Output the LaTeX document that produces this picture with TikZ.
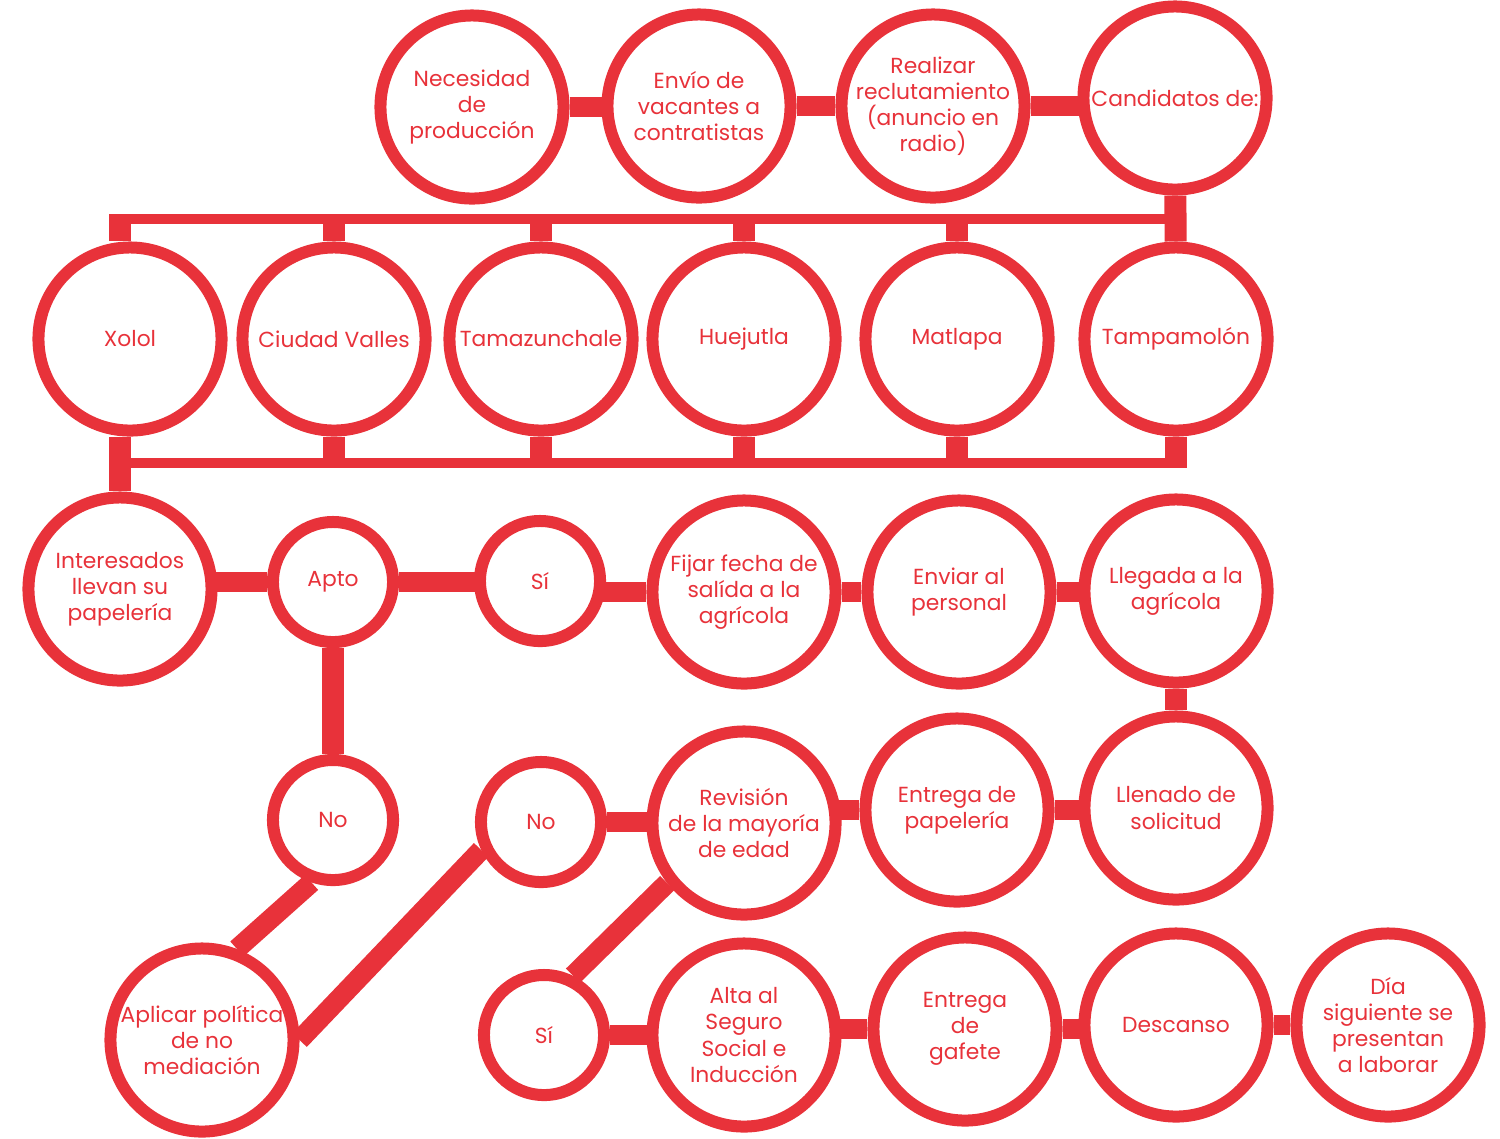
\documentclass[tikz,border=0pt]{standalone}
\usepackage{fontspec}
\setmainfont{Poppins}
\usetikzlibrary{backgrounds}
\definecolor{rojo}{HTML}{E8323A}
\begin{document}
\begin{tikzpicture}[x=0.01cm,y=-0.01cm,
  paso/.style={circle,draw=rojo,fill=white,line width=0.12cm,minimum size=1.83cm,
    inner sep=0pt,text=rojo,align=center,font=\fontsize{6.2}{7.4}\selectfont},
  chico/.style={paso,minimum size=1.2cm},
  barra/.style={draw=rojo,line width=0.2cm},
  bus/.style={draw=rojo,line width=0.1cm},
  tope/.style={draw=rojo,line width=0.22cm}]
\useasboundingbox (0,0) rectangle (1500,1138);
% fila 1
\node[paso] (nec) at (472,107) {Necesidad\\de\\producción};
\node[paso] (env) at (699,106) {Envío de\\vacantes a\\contratistas};
\node[paso] (rea) at (933,106) {Realizar\\reclutamiento\\(anuncio en\\radio)};
\node[paso] (cand) at (1175,98) {Candidatos de:};
% fila 2
\node[paso] (xol) at (130,339) {Xolol};
\node[paso] (ciu) at (334,339) {Ciudad Valles};
\node[paso] (tam) at (541,339) {Tamazunchale};
\node[paso] (hue) at (744,339) {Huejutla};
\node[paso] (mat) at (957,339) {Matlapa};
\node[paso] (tamp) at (1176,339) {Tampamolón};
\coordinate (busT) at (0,219);
\coordinate (busTe) at (0,214);
\coordinate (busB) at (0,463);
\coordinate (busBe) at (0,468);
% fila 3
\node[paso] (int) at (120,589) {Interesados\\llevan su\\papelería};
\node[chico] (apto) at (333,582) {Apto};
\node[chico] (sia) at (540,581) {Sí};
\node[paso] (fij) at (744,592) {Fijar fecha de\\salída a la\\agrícola};
\node[paso] (envp) at (959,592) {Enviar al\\personal};
\node[paso] (lleg) at (1176,591) {Llegada a la\\agrícola};
% fila 4
\node[chico] (nol) at (333,820) {No};
\node[chico] (nom) at (541,822) {No};
\node[paso] (rev) at (744,823) {Revisión\\de la mayoría\\de edad};
\node[paso] (entp) at (957,810) {Entrega de\\papelería};
\node[paso] (llen) at (1176,808) {Llenado de\\solicitud};
% fila 5
\node[paso] (apl) at (202,1040) {Aplicar política\\de no\\mediación};
\node[chico] (sib) at (544,1035) {Sí};
\node[paso] (alta) at (744,1035) {Alta al\\Seguro\\Social e\\Inducción};
\node[paso] (gaf) at (965,1029) {Entrega\\de\\gafete};
\node[paso] (des) at (1176,1025) {Descanso};
\node[paso] (dia) at (1388,1025) {Día\\siguiente se\\presentan\\a laborar};
\begin{scope}[on background layer]
\draw[barra] (nec) -- (nec -| env) (env) -- (rea) (rea) -- (rea -| cand);
\draw[tope] (cand) -- (tamp);
\draw[bus] (int.north |- busT) -- (tamp.north |- busT);
\draw[bus] (int.north |- busB) -- (tamp.south |- busB);
\draw[tope] (int.north |- busTe) -- (int.north |- xol.north);
\foreach \n in {ciu,tam,hue,mat} \draw[tope] (\n.north |- busTe) -- (\n.north);
\foreach \n in {ciu,tam,hue,mat,tamp} \draw[tope] (\n.south) -- (\n.south |- busBe);
\draw[tope] (int.north |- xol.south) -- (int.north);
\draw[barra] (apto -| int) -- (apto) (apto) -- (apto -| sia) (fij -| sia) -- (fij)
  (fij) -- (envp) -- (envp -| lleg);
\draw[tope] (apto) -- (nol);
\draw[tope] (lleg) -- (llen);
\draw[barra] (nom) -- (nom -| rev) (entp -| rev) -- (entp) -- (entp -| llen);
\draw[barra] (nol.-109) -- (apl.69);
\draw[barra] (nom.-155) -- (apl.east);
\draw[barra] (rev.-142) -- (sib.64);
\draw[barra] (sib) -- (sib -| alta) (gaf -| alta) -- (gaf) -- (gaf -| des) (des) -- (dia);
\end{scope}
\end{tikzpicture}
\end{document}
